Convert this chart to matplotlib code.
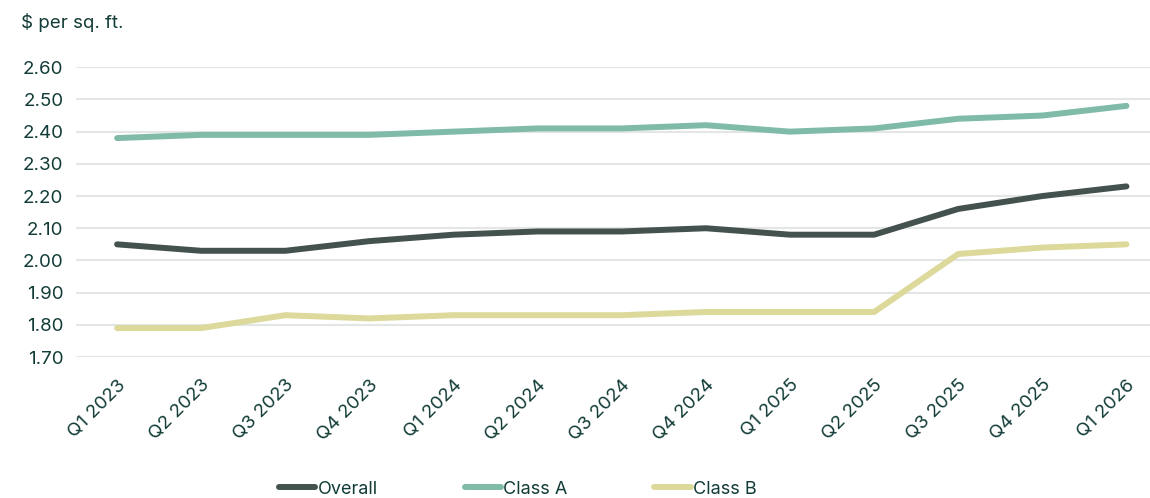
import matplotlib.pyplot as plt

plt.rcParams['font.family'] = ['Inter', 'DejaVu Sans']

quarters = ['Q1 2023', 'Q2 2023', 'Q3 2023', 'Q4 2023', 'Q1 2024', 'Q2 2024',
            'Q3 2024', 'Q4 2024', 'Q1 2025', 'Q2 2025', 'Q3 2025', 'Q4 2025',
            'Q1 2026']
overall = [2.05, 2.03, 2.03, 2.06, 2.08, 2.09, 2.09, 2.10, 2.08, 2.08, 2.16, 2.20, 2.23]
class_a = [2.38, 2.39, 2.39, 2.39, 2.40, 2.41, 2.41, 2.42, 2.40, 2.41, 2.44, 2.45, 2.48]
class_b = [1.79, 1.79, 1.83, 1.82, 1.83, 1.83, 1.83, 1.84, 1.84, 1.84, 2.02, 2.04, 2.05]
yticks = [1.70, 1.80, 1.90, 2.00, 2.10, 2.20, 2.30, 2.40, 2.50, 2.60]

text_color = '#123c37'
series = [
    ('Overall', overall, '#44524f'),
    ('Class A', class_a, '#80bba9'),
    ('Class B', class_b, '#dcd99b'),
]

fig = plt.figure(figsize=(11.5, 4.98), dpi=100)
ax = fig.add_axes([0.066, 0.283, 0.934, 0.582])

x = range(len(quarters))
for name, vals, color in series:
    ax.plot(x, vals, color=color, lw=4.3, solid_capstyle='round',
            solid_joinstyle='round', label=name, clip_on=False, zorder=3)

ax.set_ylim(1.70, 2.60)
ax.set_xlim(-0.49, 12.28)
ax.set_yticks(yticks)
ax.set_yticklabels([f'{v:.2f}' for v in yticks])
ax.set_xticks(list(x))
ax.set_xticklabels(quarters, rotation=45, ha='right', va='top',
                   rotation_mode='anchor')
ax.tick_params(axis='x', length=0, labelsize=13.5, colors=text_color, pad=14)
ax.tick_params(axis='y', length=0, labelsize=13.5, colors=text_color, pad=9)
ax.grid(axis='y', color='#e3e6e5', lw=1.5)
ax.set_axisbelow(True)
for s in ax.spines.values():
    s.set_visible(False)

fig.text(0.018, 0.955, '$ per sq. ft.', fontsize=13.5, color=text_color,
         ha='left', va='center')

leg = fig.legend(loc='center', bbox_to_anchor=(518 / 1150, 1 - 489 / 498),
                 ncol=3, frameon=False, fontsize=13, handlelength=2.0,
                 handletextpad=0.15, columnspacing=4.8)
for t in leg.get_texts():
    t.set_color(text_color)

fig.savefig('out.png', dpi=100)
